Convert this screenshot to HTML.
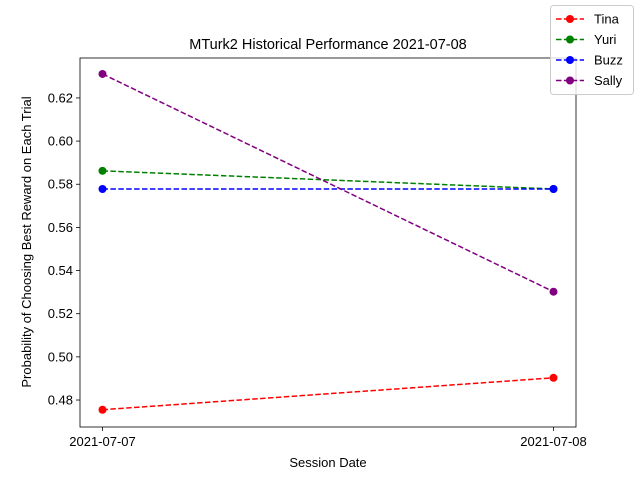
<!DOCTYPE html>
<html><head><meta charset="utf-8"><style>
body{margin:0;background:#fff;}
svg{font-family:"Liberation Sans","DejaVu Sans",sans-serif;}
</style></head><body>
<svg id="chart" width="640" height="480">
<rect x="0" y="0" width="640" height="480" fill="#fff"/>
<g id="plot"></g>
</svg>
<script>
const categories = ["2021-07-07", "2021-07-08"];
const seriesNames = ["Tina", "Yuri", "Buzz", "Sally"];
const seriesColors = ["red", "green", "blue", "purple"];
const tinaValues = [0.4755, 0.4903];
const yuriValues = [0.5862, 0.5778];
const buzzValues = [0.5778, 0.5778];
const sallyValues = [0.6311, 0.5302];
const yTicks = [0.48, 0.50, 0.52, 0.54, 0.56, 0.58, 0.60, 0.62];

const L=80, R=576, T=58, B=427;
const yMin=0.4675, yMax=0.6385;
const ns="http://www.w3.org/2000/svg";
const svg=document.getElementById('plot');
function xScale(i){return L+22.5+i*(R-L-45)/(categories.length-1);}
function yScale(v){return B-(v-yMin)/(yMax-yMin)*(B-T);}
function mk(tag,attrs,text){const e=document.createElementNS(ns,tag);for(const k in attrs)e.setAttribute(k,attrs[k]);if(text!==undefined)e.textContent=text;svg.appendChild(e);return e;}

let e;
e=mk('text',{x:328,y:49,'text-anchor':'middle','font-size':14.5},'MTurk2 Historical Performance 2021-07-08');


e=mk('text',{x:328,y:467,'text-anchor':'middle','font-size':13},'Session Date');


e=mk('text',{x:31,y:242,'text-anchor':'middle','font-size':13,transform:'rotate(-90 31 242)'},'Probability of Choosing Best Reward on Each Trial');



yTicks.forEach(t=>{
  const y=yScale(t);
  e=mk('line',{x1:L-4,x2:L,y1:y,y2:y,stroke:'#000','stroke-width':0.8});
  
  
  e=mk('text',{x:L-7,y:y+4.5,'text-anchor':'end','font-size':13},t.toFixed(2));
  
  
});
categories.forEach((c,i)=>{
  const x=xScale(i);
  e=mk('line',{x1:x,x2:x,y1:B,y2:B+4,stroke:'#000','stroke-width':0.8});
  
  
  e=mk('text',{x:x,y:B+19,'text-anchor':'middle','font-size':13},c);
  
  
});

const allSeries=[tinaValues,yuriValues,buzzValues,sallyValues];
allSeries.forEach((vals,s)=>{
  const pts=vals.map((v,i)=>xScale(i)+','+yScale(v)).join(' ');
  e=mk('polyline',{points:pts,fill:'none',stroke:seriesColors[s],'stroke-width':1.5,'stroke-dasharray':'5.5,2.4'});
  
  
  vals.forEach((v,i)=>{
    e=mk('circle',{cx:xScale(i),cy:yScale(v),r:4,fill:seriesColors[s]});
    
    
  });
});

e=mk('rect',{x:L,y:T,width:R-L,height:B-T,fill:'none',stroke:'#000','stroke-width':0.8});



e=mk('rect',{x:550.5,y:5.5,width:83,height:89,rx:3,fill:'#fff','fill-opacity':0.8,stroke:'#ccc'});


seriesNames.forEach((n,s)=>{
  const y=19+s*20.5;
  e=mk('line',{x1:556,x2:584,y1:y,y2:y,stroke:seriesColors[s],'stroke-width':1.5,'stroke-dasharray':'5.5,2.4'});
  
  
  e=mk('circle',{cx:570,cy:y,r:4,fill:seriesColors[s]});
  
  
  e=mk('text',{x:594,y:y+4.5,'font-size':13},n);
  
  
});
</script>
</body></html>
